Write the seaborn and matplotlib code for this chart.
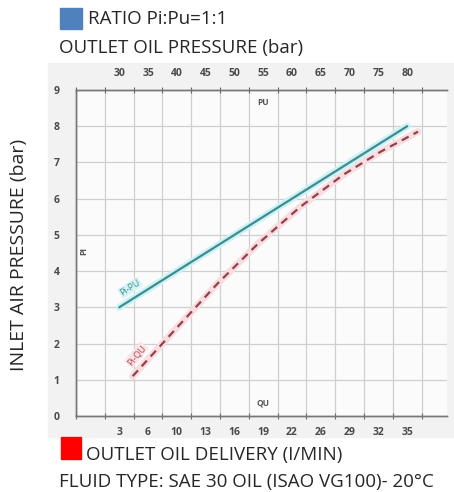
import numpy as np
import matplotlib
matplotlib.use("Agg")
import matplotlib.pyplot as plt
import seaborn as sns

# outlet oil pressure (top axis) and delivery (bottom axis) tick labels
pu_ticks = [30, 35, 40, 45, 50, 55, 60, 65, 70, 75, 80]
qu_labels = ["3", "6", "10", "13", "16", "19", "22", "26", "29", "32", "35"]
pi_ticks = [0, 1, 2, 3, 4, 5, 6, 7, 8, 9]

# Pi - PU line (outlet pressure, bar)
pu_line = [30, 80]
pi_pu = [3.0, 8.0]

# Pi - QU curve (oil delivery, l/min)
qu_curve = [4.5, 9.2, 13.9, 18.4, 23.1, 27.9, 32.0, 36.2]
pi_qu = [1.10, 2.38, 3.65, 4.75, 5.77, 6.66, 7.29, 7.85]

sns.set_theme(style="white")
plt.rcParams['font.family'] = ['Open Sans', 'DejaVu Sans']

fig = plt.figure(figsize=(4.54, 4.92), dpi=100)
fig.patch.set_facecolor("white")
# light grey backdrop of the chart picture
fig.patches.append(plt.Rectangle((48 / 454, 1 - 437 / 492), 406 / 454, 374 / 492,
                                 transform=fig.transFigure, color="#f2f2f2", zorder=-5))

ax = fig.add_axes([76 / 454, 76 / 492, 371 / 454, 326 / 492])
ax.set_facecolor("#fbfbfb")

# bottom axis: QU, 3.2 l/min per grid cell, labels centred in cells
n_cells = 371 / 28.8
qu_lo = 3 - 3.2 * 1.5
ax.set_xlim(qu_lo, qu_lo + 3.2 * n_cells)
ax.set_ylim(0, 9)
ax.set_xticks([qu_lo + 3.2 * k for k in range(13)])
ax.set_xticklabels([])
ax.set_xticks([3 + 3.2 * k for k in range(len(qu_labels))], minor=True)
ax.set_xticklabels(qu_labels, minor=True)
ax.set_yticks(pi_ticks)
ax.tick_params(axis="x", which="major", direction="inout", length=5, color="#666", width=0.8)
ax.tick_params(axis="x", which="minor", length=0, pad=8, labelsize=7.5, labelcolor="#4a4a4a")
ax.tick_params(axis="y", length=0, pad=12, labelsize=7.5, labelcolor="#4a4a4a")
for lab in ax.get_xticklabels(minor=True) + ax.get_yticklabels():
    lab.set_fontweight("bold")
ax.grid(which="major", color="#cfcfcf", linewidth=0.9)

# top axis: PU, 5 bar per grid cell
ax2 = ax.twiny()
pu_lo = 30 - 5 * 1.5
ax2.set_xlim(pu_lo, pu_lo + 5 * n_cells)
ax2.set_xticks([pu_lo + 5 * k for k in range(13)])
ax2.set_xticklabels([])
ax2.set_xticks(pu_ticks, minor=True)
ax2.set_xticklabels([str(t) for t in pu_ticks], minor=True)
ax2.tick_params(axis="x", which="major", direction="inout", length=5, color="#666", width=0.8)
ax2.tick_params(axis="x", which="minor", length=0, pad=8, labelsize=7.5, labelcolor="#4a4a4a")
for lab in ax2.get_xticklabels(minor=True):
    lab.set_fontweight("bold")

for a in (ax, ax2):
    a.spines["right"].set_visible(False)
    for s in ("left", "bottom", "top"):
        a.spines[s].set_color("#777")
        a.spines[s].set_linewidth(1.0)

# glow + lines
sns.lineplot(x=pu_line, y=pi_pu, ax=ax2, color="#cdf2f5", linewidth=5, zorder=3)
sns.lineplot(x=pu_line, y=pi_pu, ax=ax2, color="#3f8c8f", linewidth=1.6, zorder=4)
sns.lineplot(x=qu_curve, y=pi_qu, ax=ax, color="#f8dde0", linewidth=5, zorder=3, sort=False)
sns.lineplot(x=qu_curve, y=pi_qu, ax=ax, color="#93404b", linewidth=1.6,
             linestyle=(0, (3.5, 2.5)), zorder=4, sort=False)

ax2.text(31.9, 3.54, "Pi-PU", rotation=33, fontsize=6.5, color="#3f8c8f",
         ha="center", va="center", zorder=5,
         bbox=dict(boxstyle="square,pad=0.1", fc="#d8f4f6", ec="none"))
ax.text(4.9, 1.69, "Pi-QU", rotation=50, fontsize=6.5, color="#b04a58",
        ha="center", va="center", zorder=5,
        bbox=dict(boxstyle="square,pad=0.1", fc="#fbe3e6", ec="none"))
ax2.text(55, 8.65, "PU", fontsize=6, color="#555", fontweight="bold", ha="center", va="center")
ax.text(19, 0.35, "QU", fontsize=6, color="#555", fontweight="bold", ha="center", va="center")
ax.text(qu_lo + 0.9, 4.55, "PI", fontsize=6, color="#555", fontweight="bold",
        rotation=90, ha="center", va="center")

# header / footer captions
fig.patches.append(plt.Rectangle((60 / 454, 1 - 29 / 492), 22 / 454, 21 / 492,
                                 transform=fig.transFigure, color="#4f81bd"))
fig.text(88 / 454, 1 - 19 / 492, "RATIO Pi:Pu=1:1", fontsize=13.5, va="center", ha="left")
fig.text(59 / 454, 1 - 48 / 492, "OUTLET OIL PRESSURE (bar)", fontsize=13.5, va="center", ha="left")
fig.patches.append(plt.Rectangle((61 / 454, 1 - 459 / 492), 20 / 454, 22 / 492,
                                 transform=fig.transFigure, color="#ff0000"))
fig.text(86 / 454, 1 - 455 / 492, "OUTLET OIL DELIVERY (I/MIN)", fontsize=13.5, va="center", ha="left")
fig.text(59 / 454, 1 - 482 / 492, "FLUID TYPE: SAE 30 OIL (ISAO VG100)- 20°C", fontsize=13.5,
         va="center", ha="left")
fig.text(19 / 454, 1 - 255 / 492, "INLET AIR PRESSURE (bar)", fontsize=14, rotation=90,
         va="center", ha="center")

fig.savefig("out.png", dpi=100)
